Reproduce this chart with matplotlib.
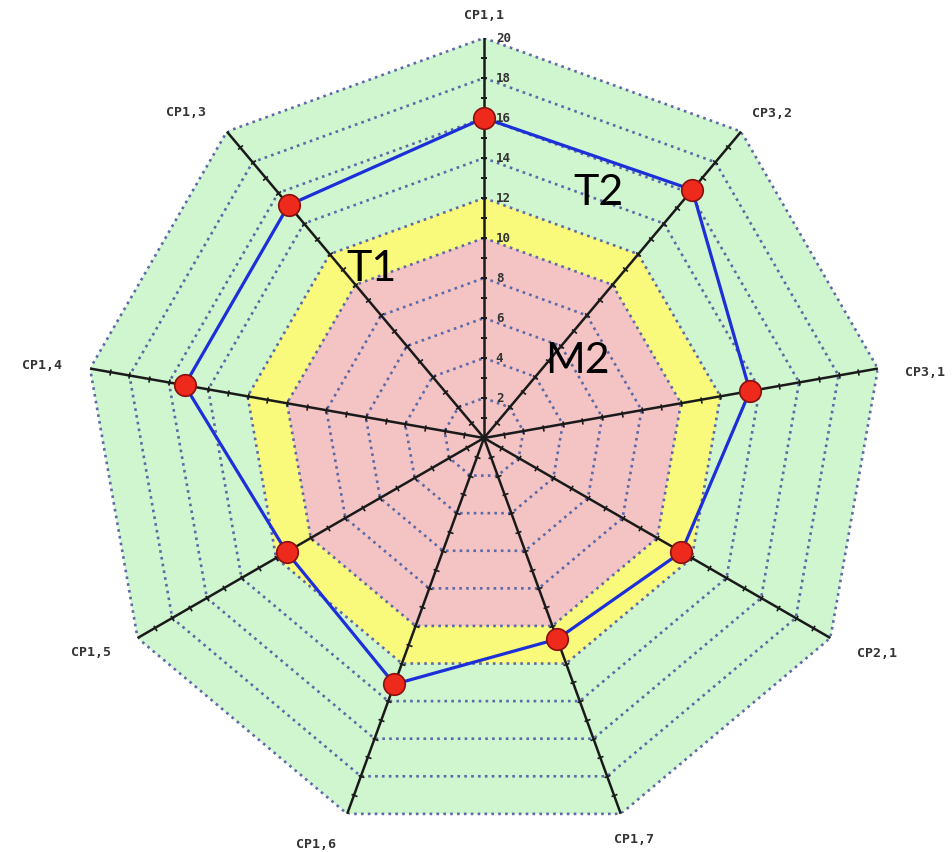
import numpy as np
import matplotlib
matplotlib.use('Agg')
import matplotlib.pyplot as plt
from matplotlib import transforms

# axes, clockwise from the top
labels = ['CP1,1', 'CP3,2', 'CP3,1', 'CP2,1', 'CP1,7', 'CP1,6', 'CP1,5', 'CP1,4', 'CP1,3']
values = [16, 16.2, 13.5, 11.4, 10.7, 13.1, 11.4, 15.2, 15.2]

# background bands (lower, upper)
band_lims   = [(12, 20), (10, 12), (0, 10)]
band_colors = ['#cff6cf', '#f9f97c', '#f4c4c4']

grid_levels = np.arange(2, 21, 2)
tick_labels = [str(v) for v in grid_levels]

notes   = ['T1', 'T2', 'M2']
notes_x = [0.390, 0.628, 0.606]
notes_y = [0.684, 0.773, 0.576]

# where each axis label sits (compass angle in degrees, radius)
label_ang = [0, 41.6, 81.5, 118.7, 159.5, 202.5, 241.4, 279.3, 317.5]
label_r   = [21.15, 21.7, 22.3, 22.4, 21.45, 22.0, 22.4, 22.4, 22.05]

n = len(labels)
theta = np.arange(n) * 2 * np.pi / n
theta_c = np.append(theta, theta[0])

fig = plt.figure(figsize=(9.53, 8.52), dpi=100)
ax = fig.add_axes([84/953, 14/852, 800/953, 800/852], projection='polar')
ax.set_theta_zero_location('N')
ax.set_theta_direction(-1)
ax.set_ylim(0, 20)
ax.grid(False)
ax.set_xticks([])
ax.set_yticks([])
ax.spines['polar'].set_visible(False)
ax.patch.set_alpha(0)

# bands, drawn as filled polygons (outer first)
for (lo, hi), c in zip(band_lims, band_colors):
    ax.fill(theta_c, np.full(n + 1, hi), color=c, lw=0, zorder=1)

# dotted polygon grid
for lv in grid_levels:
    ax.plot(theta_c, np.full(n + 1, lv), ls=(0, (1, 1.6)), color='#5d6aa8',
            lw=1.9, zorder=2)

# spokes with small ticks
for th in theta:
    ax.plot([th, th], [0, 20], color='#1a1a1a', lw=1.8, zorder=3)
    phi = 90 - np.degrees(th)
    ax.plot(np.full(19, th), np.arange(1, 20), ls='none',
            marker=(2, 0, phi), ms=4.5, mew=1.2, mec='#1a1a1a', zorder=3)

# tick labels on top spoke
off = transforms.offset_copy(ax.transData, fig=fig, x=8.5, y=0, units='points')
for lv, t in zip(grid_levels, tick_labels):
    ax.text(0, lv, t, transform=off, ha='left', va='center', fontsize=9,
            fontweight='bold', family='DejaVu Sans Mono', color='#333333', zorder=6)

# axis labels
for a, lab, r in zip(label_ang, labels, label_r):
    ax.text(np.radians(a), r, lab, ha='center', va='center', fontsize=9.5,
            fontweight='bold', family='DejaVu Sans Mono', color='#333333',
            clip_on=False)

# data series
ax.plot(theta_c, np.append(values, values[0]), color='#1c2fd8', lw=2.3, zorder=4)
ax.plot(theta, values, ls='none', marker='o', ms=15.5, mfc='#ee2a1c',
        mec='#8a1010', mew=1.2, zorder=5)

for t, x, y in zip(notes, notes_x, notes_y):
    fig.text(x, y, t, ha='center', va='center', fontsize=31, family='Lato',
             color='black')

fig.savefig('out.png', dpi=100)
